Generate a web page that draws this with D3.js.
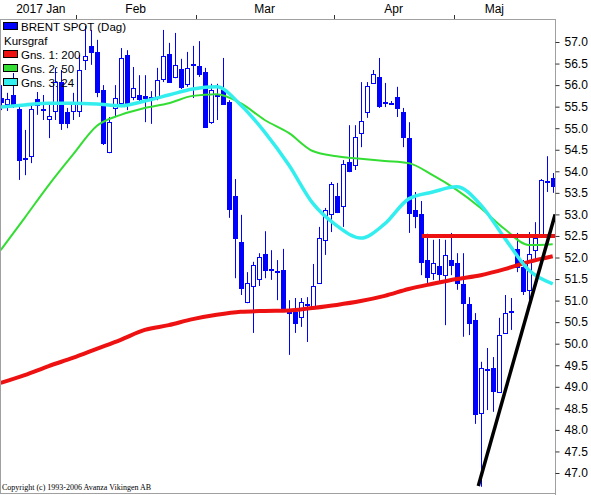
<!DOCTYPE html>
<html><head><meta charset="utf-8">
<script src="https://cdn.jsdelivr.net/npm/d3@7"></script>
<style>html,body{margin:0;padding:0;background:#fff;}svg{display:block;}</style>
</head><body>
<svg id="c" width="591" height="495"></svg>
<script>
// ---- data ----
const openP  = [55.70,55.56,55.77,55.45,54.31,54.35,55.68,55.45,55.21,55.40,56.07,55.38,55.40,55.40,56.58,56.91,56.77,55.89,54.45,55.47,55.58,56.70,55.72,55.77,55.75,55.73,55.72,56.14,56.72,56.19,56.37,56.03,56.49,56.44,56.30,55.14,55.77,55.91,55.61,53.43,52.36,50.97,51.34,51.50,52.08,51.74,51.68,51.71,50.78,50.74,50.62,50.90,50.83,51.41,52.41,53.01,53.43,53.19,54.22,54.15,54.89,55.38,56.05,56.19,55.61,55.58,55.72,55.38,54.77,53.10,53.01,51.94,51.64,51.80,51.59,51.94,51.87,51.39,50.92,50.55,48.39,49.41,49.44,48.88,50.25,50.76,52.20,51.78,51.25,52.17,52.52,53.78,53.84];
const highP  = [56.00,55.82,56.28,55.54,54.96,55.54,55.84,55.77,55.58,56.40,56.35,55.47,55.82,56.70,57.37,57.28,57.05,56.00,55.26,56.00,56.86,56.81,56.42,56.23,56.23,55.86,56.40,57.28,56.98,57.21,56.61,56.77,56.91,57.02,56.40,56.03,56.03,56.63,55.65,53.82,52.99,51.66,51.90,52.10,52.61,52.17,51.94,52.20,51.01,51.06,51.06,51.08,51.85,52.71,53.15,53.75,53.73,54.26,55.07,55.07,56.07,56.07,56.35,56.63,56.05,55.63,55.96,55.47,55.14,53.52,53.31,52.55,52.41,52.43,52.41,52.57,52.10,52.10,51.08,50.71,49.58,49.90,49.69,50.60,51.13,51.06,52.57,51.94,52.59,52.82,53.82,54.35,53.96];
const lowP   = [55.42,55.40,55.47,53.80,53.91,54.19,55.31,55.19,54.77,55.19,54.96,55.00,55.19,55.26,56.35,56.47,55.72,54.61,54.42,55.26,55.49,55.42,55.65,55.58,55.14,55.10,55.65,56.07,56.05,56.16,55.91,55.96,55.70,56.19,55.03,55.10,55.19,55.56,52.92,51.52,51.13,50.94,50.25,51.34,51.52,51.48,51.01,50.78,49.74,50.25,50.39,50.04,50.83,51.39,52.06,52.59,53.03,52.71,53.98,54.03,54.56,55.24,56.05,55.47,55.49,55.54,55.26,54.56,52.57,52.68,51.59,51.41,51.48,51.41,50.43,51.59,51.25,50.16,50.20,48.14,46.68,48.46,48.42,48.88,50.25,50.32,51.66,51.13,51.01,51.94,52.50,53.52,53.50];
const closeP = [55.60,55.68,55.54,54.26,54.30,55.45,55.54,55.44,55.28,56.07,55.12,55.12,55.58,56.35,56.68,56.77,55.84,54.66,55.14,55.70,56.63,55.58,55.93,55.68,55.70,55.72,56.12,56.68,56.07,56.47,55.96,56.40,56.50,56.26,55.03,55.89,55.76,55.56,53.13,52.45,51.29,51.41,51.83,52.01,51.71,51.73,51.69,50.83,50.71,50.48,50.97,50.91,51.34,52.45,53.10,53.71,53.06,54.17,54.01,54.80,55.17,55.98,56.26,55.52,55.60,55.59,55.47,54.80,53.03,52.96,51.90,51.55,51.87,51.62,52.06,51.83,51.41,50.94,50.48,48.37,49.44,49.42,48.90,50.20,50.71,50.77,51.78,51.22,52.08,52.45,53.80,53.77,53.66];

const months     = ["2017 Jan", "Feb", "Mar", "Apr", "Maj"];
const monthStart = [0, 13, 33, 56, 76];          // candle index where each month begins
const priceTicks = [47.0,47.5,48.0,48.5,49.0,49.5,50.0,50.5,51.0,51.5,52.0,52.5,53.0,53.5,54.0,54.5,55.0,55.5,56.0,56.5,57.0];

const maIdx  = [0,4,8,12,16,20,24,28,32,36,40,44,48,52,56,60,64,68,72,76,80,84,88,92];
const ma200  = [49.09,49.27,49.48,49.67,49.88,50.09,50.32,50.43,50.57,50.67,50.74,50.76,50.77,50.83,50.90,50.99,51.11,51.27,51.39,51.50,51.59,51.73,51.90,52.03];
const ma50   = [52.17,52.92,53.68,54.38,55.05,55.31,55.47,55.58,55.75,55.79,55.58,55.19,54.89,54.47,54.35,54.29,54.24,54.19,53.91,53.57,53.15,52.66,52.29,52.31];
const ma24   = [55.49,55.54,55.58,55.58,55.56,55.52,55.63,55.77,55.91,55.96,55.54,54.91,54.15,53.26,52.74,52.45,52.78,53.36,53.52,53.64,53.22,52.45,51.71,51.39];

const legendNames = ["BRENT SPOT (Dag)", "Kursgraf", "Gns. 1: 200", "Gns. 2: 50", "Gns. 3: 24"];
const hLineStart = 70.2, hLinePrice = 52.5;        // drawn horizontal level
const trendPts = [[79.6, 46.70], [92.4, 53.00]];    // drawn trend line

// ---- drawing ----
const svg = d3.select("#c");
const L = 0, R = 555, T = 19, B = 493;
const x = d3.scaleLinear().domain([0, 92]).range([0.7, 552.7]);
const y = d3.scaleLinear().domain([47, 57]).range([473, 42]);
const blue = "#0000ff";
const sans = "'Liberation Sans', Arial, sans-serif";

svg.append("rect").attr("width",591).attr("height",495).attr("fill","#fff");
svg.append("defs").append("clipPath").attr("id","clip")
  .append("rect").attr("x",L+1).attr("y",T+1).attr("width",R-L-1).attr("height",B-T-1);

const plot = svg.append("g").attr("clip-path","url(#clip)");

const idx = d3.range(openP.length);
const cg = plot.append("g");
idx.forEach(i => {
  const cx = Math.round(x(i));
  cg.append("line").attr("x1",cx+0.5).attr("x2",cx+0.5)
    .attr("y1",y(highP[i])).attr("y2",y(lowP[i]))
    .attr("stroke",blue).attr("stroke-width",1);
  const up = closeP[i] >= openP[i];
  const yt = y(Math.max(openP[i],closeP[i])), yb = y(Math.min(openP[i],closeP[i]));
  const h = Math.max(1, yb-yt);
  if (up) {
    cg.append("rect").attr("x",cx-1.5).attr("y",Math.round(yt)+0.5)
      .attr("width",4).attr("height",Math.max(1,Math.round(h)))
      .attr("fill","#fff").attr("stroke",blue).attr("stroke-width",1);
  } else {
    cg.append("rect").attr("x",cx-2).attr("y",Math.round(yt))
      .attr("width",5).attr("height",Math.max(1,Math.round(h)+1))
      .attr("fill",blue);
  }
});

const line = d3.line().x(d => x(d[0])).y(d => y(d[1])).curve(d3.curveMonotoneX);
const series = [
  {v: ma200, c: "#ee1111", w: 4},
  {v: ma50,  c: "#33dd33", w: 2},
  {v: ma24,  c: "#33eeee", w: 3.5}
];
series.forEach(s => {
  plot.append("path").datum(maIdx.map((k,j) => [k, s.v[j]]))
    .attr("d", line).attr("fill","none").attr("stroke",s.c)
    .attr("stroke-width",s.w).attr("stroke-linejoin","round");
});

plot.append("line").attr("x1",x(hLineStart)).attr("x2",R)
  .attr("y1",y(hLinePrice)).attr("y2",y(hLinePrice))
  .attr("stroke","#ee1111").attr("stroke-width",4);

plot.append("path").datum(trendPts).attr("d", d3.line().x(d=>x(d[0])).y(d=>y(d[1])))
  .attr("stroke","#000").attr("stroke-width",3.5).attr("fill","none");

// frame
const frame = "#a0a0a0";
svg.append("line").attr("x1",0).attr("x2",R).attr("y1",T+0.5).attr("y2",T+0.5).attr("stroke",frame);
svg.append("line").attr("x1",0.5).attr("x2",0.5).attr("y1",T).attr("y2",B).attr("stroke",frame);
svg.append("line").attr("x1",0).attr("x2",R).attr("y1",B+0.5).attr("y2",B+0.5).attr("stroke",frame);
svg.append("line").attr("x1",R+0.5).attr("x2",R+0.5).attr("y1",T).attr("y2",495).attr("stroke",frame);

// right axis
const ax = svg.append("g").attr("transform",`translate(${R+0.5},0)`)
  .call(d3.axisRight(y).tickValues(priceTicks).tickFormat(d3.format(".1f")).tickSize(4).tickPadding(5));
ax.select(".domain").remove();
ax.selectAll(".tick line").attr("stroke","#333");
ax.selectAll("text").attr("font-family",sans).attr("font-size",12).attr("fill","#000");

// top month axis
const tickX = monthStart.slice(1).map(k => x(k - 0.5));
tickX.forEach(tx => {
  svg.append("line").attr("x1",Math.round(tx)+0.5).attr("x2",Math.round(tx)+0.5)
    .attr("y1",15).attr("y2",T).attr("stroke","#333");
});
months.forEach((m, i) => {
  const a = i === 0 ? 0 : x(monthStart[i] - 0.5);
  const b = i < months.length - 1 ? x(monthStart[i+1] - 0.5) : R - 20;
  svg.append("text").attr("x",(a+b)/2 + (i===0?3:0)).attr("y",13).attr("text-anchor","middle")
    .attr("font-family",sans).attr("font-size",12).attr("fill","#000").text(m);
});

// legend
const lgColors = [blue, null, "#ee1111", "#33dd33", "#33eeee"];
legendNames.forEach((n, i) => {
  const yy = 26 + i*14;
  if (lgColors[i]) {
    svg.append("rect").attr("x",3.5).attr("y",yy-3.5).attr("width",14).attr("height",7)
      .attr("fill",lgColors[i]).attr("stroke","#000").attr("stroke-width",1);
  }
  svg.append("text").attr("x", lgColors[i] ? 21 : 4).attr("y",yy+4.5)
    .attr("font-family",sans).attr("font-size",11.5).attr("fill","#000").text(n);
});

svg.append("text").attr("x",2).attr("y",490)
  .attr("font-family","'Liberation Serif', 'Times New Roman', serif").attr("font-size",8).attr("fill","#000")
  .text("Copyright (c) 1993-2006 Avanza Vikingen AB");
</script>
</body></html>
